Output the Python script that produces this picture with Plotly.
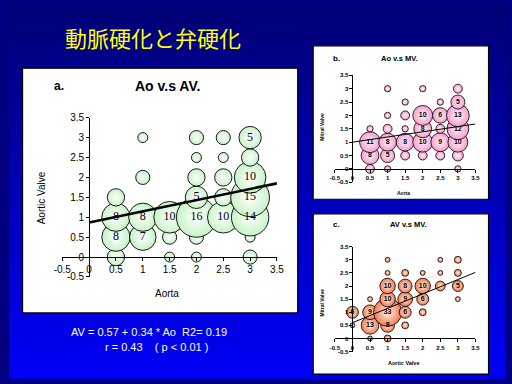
import plotly.graph_objects as go

# ---------------- data ----------------
TITLE = "動脈硬化と弁硬化"
TICKVALS = [-0.5, 0, 0.5, 1, 1.5, 2, 2.5, 3, 3.5]
TICKTEXT = ["-0.5", "0", "0.5", "1", "1.5", "2", "2.5", "3", "3.5"]

# a. Ao v.s AV.
a_x = [0.5, 0.5, 0.5, 0.5, 1, 1, 1, 1, 1.5, 1.5, 1.5, 2, 2, 2, 2, 2, 2, 2,
       2.5, 2.5, 2.5, 2.5, 2.5, 3, 3, 3, 3, 3, 3, 3]
a_y = [0, 0.5, 1, 1.5, 0.5, 1, 2, 3, 0, 0.5, 1, 0, 0.5, 1, 1.5, 2, 2.5, 3,
       1, 1.5, 2, 2.5, 3, 0, 0.5, 1, 1.5, 2, 2.5, 3]
a_n = [3, 8, 8, 3, 7, 8, 2, 1, 1, 2, 10, 1, 2, 16, 5, 3, 1, 2,
       10, 3, 3, 1, 2, 2, 1, 14, 15, 10, 3, 5]
a_line_x = [0, 3.5]
a_line_y = [0.87, 1.85]

# b. Ao v.s MV.
b_x = [0.5, 0.5, 0.5, 0.5, 1, 1, 1, 1, 1, 1, 1.5, 1.5, 1.5, 1.5, 1.5,
       2, 2, 2, 2, 2, 2.5, 2.5, 2.5, 2.5, 2.5, 3, 3, 3, 3, 3, 3, 3]
b_y = [0, 0.5, 1, 1.5, 0, 0.5, 1, 1.5, 2, 3, 0.5, 1, 1.5, 2, 2.5,
       0.5, 1, 1.5, 2, 3, 0.5, 1, 1.5, 2, 2.5, 0, 0.5, 1, 1.5, 2, 2.5, 3]
b_n = [2, 8, 11, 1, 1, 5, 8, 2, 1, 1, 2, 8, 1, 2, 1,
       2, 10, 8, 10, 1, 2, 9, 2, 6, 1, 1, 3, 10, 12, 13, 5, 2]
b_line_x = [0, 3.5]
b_line_y = [1.0, 1.68]

# c. AV v.s MV.
c_x = [0, 0, 0.5, 0.5, 0.5, 0.5, 1, 1, 1, 1, 1, 1, 1, 1.5, 1.5, 1.5, 1.5, 1.5,
       2, 2, 2, 2, 2.5, 2.5, 2.5, 3, 3, 3, 3]
c_y = [0.5, 1, 0, 0.5, 1, 1.5, 0, 0.5, 1, 1.5, 2, 2.5, 3, 0.5, 1, 1.5, 2, 2.5,
       1, 1.5, 2, 2.5, 2, 2.5, 3, 1.5, 2, 2.5, 3]
c_n = [1, 6, 1, 13, 9, 1, 2, 8, 33, 10, 10, 1, 1, 2, 6, 9, 8, 2,
       2, 6, 10, 1, 4, 1, 1, 1, 5, 2, 2]
c_line_x = [0, 3.5]
c_line_y = [0.6, 2.52]

EQ1 = "AV = 0.57 + 0.34 * Ao\u00a0\u00a0R2= 0.19"
EQ2 = "r = 0.43\u00a0\u00a0\u00a0\u00a0( p &lt; 0.01 )"

# ---------------- layout helpers ----------------
W, H = 512, 384


def px(x):
    return x / W


def py(y):
    return 1 - y / H


# plot-area pixel boxes (left, right, top, bottom) for ranges [-0.5, 3.5]
BOX_A = (55, 276.6, 116, 280)
BOX_B = (336.4, 481.5, 72.4, 182.5)
BOX_C = (336.4, 481.5, 248.8, 356.8)

fig = go.Figure()


def add_panel(xs, ys, ns, lx, ly, xa, ya, k, edge, center, lw, lab_font, line_w):
    fig.add_trace(go.Scatter(
        x=xs, y=ys, mode="markers", xaxis=xa, yaxis=ya, hoverinfo="skip",
        marker=dict(size=ns, sizemode="area", sizeref=2.0 / (k * k),
                    color=edge, gradient=dict(type="radial", color=center),
                    line=dict(color="black", width=lw), opacity=1),
        showlegend=False))
    fig.add_trace(go.Scatter(
        x=lx, y=ly, mode="lines", xaxis=xa, yaxis=ya, hoverinfo="skip",
        line=dict(color="black", width=line_w), showlegend=False))
    tx = [x for x, n in zip(xs, ns) if n >= 5]
    ty = [y for y, n in zip(ys, ns) if n >= 5]
    tt = [str(n) for n in ns if n >= 5]
    fig.add_trace(go.Scatter(
        x=tx, y=ty, text=tt, mode="text", xaxis=xa, yaxis=ya, hoverinfo="skip",
        textposition="middle center", textfont=lab_font, showlegend=False))


add_panel(a_x, a_y, a_n, a_line_x, a_line_y, "x", "y", 10.0, "#c8f2c8", "#ffffff", 0.9,
          dict(family="Liberation Serif", size=12, color="#000000"), 2.6)
add_panel(b_x, b_y, b_n, b_line_x, b_line_y, "x2", "y2", 6.3, "#f49ccc", "#fff4fa", 0.8,
          dict(family="Liberation Sans", size=7, color="#000000", weight="bold"), 1)
add_panel(c_x, c_y, c_n, c_line_x, c_line_y, "x3", "y3", 4.9, "#f07a50", "#fff2ea", 0.8,
          dict(family="Liberation Sans", size=7, color="#000000", weight="bold"), 1)


def axes(box, fs, bold, lw):
    l, r, t, b = box
    dx = [px(l), px(r)]
    dy = [py(b), py(t)]
    xpos = dy[0] + 0.125 * (dy[1] - dy[0])
    ypos = dx[0] + 0.125 * (dx[1] - dx[0])
    f = dict(family="Liberation Sans", size=fs, color="black")
    if bold:
        f["weight"] = "bold"
    common = dict(range=[-0.5, 3.5], anchor="free", showgrid=False, zeroline=False,
                  showline=True, linecolor="black", linewidth=lw, ticks="outside",
                  ticklen=3, tickcolor="black", tickwidth=1, tickvals=TICKVALS,
                  ticktext=TICKTEXT, tickfont=f, fixedrange=True)
    xa = dict(domain=dx, position=xpos, **common)
    ya = dict(domain=dy, position=ypos, **common)
    return xa, ya


xa1, ya1 = axes(BOX_A, 10, False, 1.2)
xa2, ya2 = axes(BOX_B, 6, True, 1)
xa3, ya3 = axes(BOX_C, 6, True, 1)

shapes = []
N = 48
for i in range(N):
    t = i / (N - 1)
    b = int(round(118 + (246 - 118) * t))
    shapes.append(dict(type="rect", xref="paper", yref="paper", x0=0, x1=1,
                       y0=1 - (i + 1) / N - 0.002, y1=1 - i / N, layer="below",
                       fillcolor=f"rgb(0,0,{b})", line=dict(width=0)))

for (l, t, r, b) in [(14, 65, 298, 317), (314, 42, 495, 200), (314, 215, 495, 380)]:
    shapes.append(dict(type="rect", xref="paper", yref="paper", x0=px(l), x1=px(r),
                       y0=py(b), y1=py(t), layer="below", fillcolor="white",
                       line=dict(color="black", width=1.2)))


def ann(x, y, text, size, color="black", bold=False, family="Liberation Sans", angle=0,
        xanchor="center"):
    f = dict(family=family, size=size, color=color)
    if bold:
        f["weight"] = "bold"
    return dict(x=px(x), y=py(y), xref="paper", yref="paper", text=text, showarrow=False,
                font=f, xanchor=xanchor, yanchor="middle", textangle=angle)


annotations = [
    ann(149, 33, TITLE, 22, color="#ffff00", family="Noto Sans CJK JP"),
    ann(52, 83, "a.", 12, bold=True),
    ann(164, 83, "Ao v.s AV.", 14, bold=True),
    ann(163, 297, "Aorta", 10),
    ann(33, 198, "Aortic Valve", 10, angle=-90),
    ann(338, 55, "b.", 8, bold=True),
    ann(403, 55, "Ao v.s MV.", 7.5, bold=True),
    ann(407, 194, "Aorta", 5, bold=True),
    ann(322.7, 125.7, "Mitral Valve", 5, bold=True, angle=-90),
    ann(338, 226, "c.", 8, bold=True),
    ann(412.7, 226, "AV v.s MV.", 7.5, bold=True),
    ann(408, 369, "Aortic Valve", 5.5, bold=True),
    ann(322.7, 306.7, "Mitral Valve", 5, bold=True, angle=-90),
    ann(144.5, 337, EQ1, 11, color="white"),
    ann(152, 352, EQ2, 11, color="white"),
]

fig.update_layout(
    width=W, height=H, margin=dict(l=0, r=0, t=0, b=0),
    paper_bgcolor="#000080", plot_bgcolor="rgba(0,0,0,0)",
    xaxis=xa1, yaxis=ya1, xaxis2=xa2, yaxis2=ya2, xaxis3=xa3, yaxis3=ya3,
    shapes=shapes, annotations=annotations, showlegend=False, hovermode=False,
)

POST = ("document.body.style.margin='0px';document.body.style.padding='0px';"
        "document.body.style.overflow='hidden';"
        "var gd=document.getElementById('{plot_id}');"
        "gd.style.position='absolute';gd.style.left='0px';gd.style.top='0px';")

fig.write_html("out.html", post_script=POST, config={"displayModeBar": False, "staticPlot": True})
